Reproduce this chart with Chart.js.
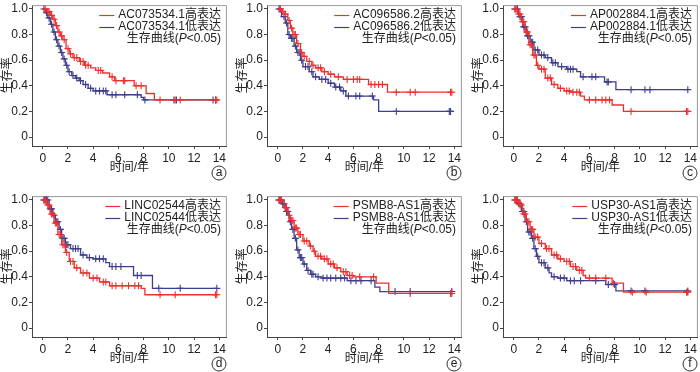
<!DOCTYPE html>
<html>
<head>
<meta charset="utf-8">
<script src="https://cdn.jsdelivr.net/npm/chart.js@4.4.1/dist/chart.umd.min.js"></script>
<style>
  body { margin: 0; width: 700px; height: 372px; overflow: hidden; background: #fff; position: relative; }
  canvas { position: absolute; }
</style>
</head>
<body>
<canvas id="pa" width="232" height="186" style="left:0px;top:0px"></canvas>
<canvas id="pb" width="232" height="186" style="left:235px;top:0px"></canvas>
<canvas id="pc" width="232" height="186" style="left:471px;top:0px"></canvas>
<canvas id="pd" width="232" height="186" style="left:0px;top:191px"></canvas>
<canvas id="pe" width="232" height="186" style="left:235px;top:191px"></canvas>
<canvas id="pf" width="232" height="186" style="left:471px;top:191px"></canvas>
<script>
// Axis ticks
const timeTicks = [0, 2, 4, 6, 8, 10, 12, 14];
const survTicks = [0, 0.2, 0.4, 0.6, 0.8, 1.0];

const panelIds = ['pa', 'pb', 'pc', 'pd', 'pe', 'pf'];
const panelLetters = ['a', 'b', 'c', 'd', 'e', 'f'];
const geneNames = ['AC073534.1', 'AC096586.2', 'AP002884.1', 'LINC02544', 'PSMB8-AS1', 'USP30-AS1'];

// Panel a
const aHighT = [0, 0.3, 0.6, 0.8, 1.0, 1.2, 1.4, 1.6, 1.85, 2.1, 2.4, 2.9, 3.3, 3.8, 4.2, 4.75, 5.3, 5.7, 7.25, 8.2, 8.85, 13.8];
const aHighS = [1, 0.98, 0.95, 0.92, 0.87, 0.82, 0.79, 0.76, 0.69, 0.65, 0.62, 0.59, 0.56, 0.54, 0.52, 0.50, 0.47, 0.44, 0.40, 0.34, 0.29, 0.29];
const aHighC = [0.2, 0.4, 0.5, 0.7, 0.9, 1.1, 1.3, 1.5, 1.7, 2.0, 2.2, 2.5, 2.7, 3.0, 3.2, 3.4, 3.6, 4.4, 4.6, 5.5, 5.8, 6.4, 6.5, 7.4, 7.8, 9.3, 10.5, 10.9, 13.7, 13.8];
const aLowT = [0, 0.2, 0.4, 0.6, 0.8, 1.0, 1.2, 1.4, 1.6, 1.8, 2.0, 2.3, 2.6, 2.9, 3.2, 3.6, 4.0, 5.1, 7.8, 8.0, 13.7];
const aLowS = [1, 0.97, 0.93, 0.88, 0.82, 0.76, 0.71, 0.66, 0.61, 0.56, 0.51, 0.48, 0.46, 0.44, 0.41, 0.38, 0.36, 0.33, 0.31, 0.29, 0.29];
const aLowC = [0.1, 0.3, 0.5, 0.7, 0.9, 1.1, 1.3, 1.5, 1.7, 1.9, 2.1, 2.4, 2.7, 3.0, 3.4, 3.8, 4.2, 4.5, 4.8, 5.0, 5.5, 5.8, 6.5, 7.5, 8.1, 10.4, 10.6, 13.5, 13.7];

// Panel b
const bHighT = [0, 0.3, 0.5, 0.8, 1.0, 1.2, 1.5, 1.8, 2.0, 2.3, 2.7, 3.0, 3.5, 4.0, 4.5, 5.2, 7.2, 8.7, 13.8];
const bHighS = [1, 0.98, 0.96, 0.91, 0.85, 0.80, 0.73, 0.66, 0.63, 0.59, 0.56, 0.54, 0.51, 0.49, 0.47, 0.45, 0.41, 0.35, 0.35];
const bHighC = [0.2, 0.4, 0.6, 0.9, 1.1, 1.3, 1.4, 1.6, 1.9, 2.1, 2.5, 2.8, 3.2, 3.4, 3.7, 4.2, 4.8, 5.5, 6.0, 6.3, 6.5, 7.4, 7.7, 8.0, 8.3, 9.4, 10.5, 10.9, 13.7, 13.8];
const bLowT = [0, 0.3, 0.6, 0.8, 1.0, 1.3, 1.5, 1.8, 2.0, 2.5, 2.8, 3.3, 4.0, 4.5, 5.0, 5.4, 7.6, 8.0, 13.7];
const bLowS = [1, 0.94, 0.89, 0.80, 0.77, 0.71, 0.66, 0.60, 0.55, 0.51, 0.47, 0.45, 0.42, 0.39, 0.36, 0.32, 0.29, 0.20, 0.20];
const bLowC = [0.1, 0.2, 0.5, 0.7, 0.9, 1.1, 1.2, 1.4, 1.6, 1.7, 1.9, 2.2, 2.4, 2.7, 3.0, 3.5, 3.8, 4.2, 4.6, 4.9, 5.2, 5.6, 6.2, 6.5, 7.5, 9.4, 13.6, 13.7];

// Panel c
const cHighT = [0, 0.3, 0.6, 0.9, 1.2, 1.5, 1.8, 2.0, 2.5, 3.0, 3.5, 4.0, 4.5, 5.3, 5.6, 7.8, 8.7, 13.8];
const cHighS = [1, 0.96, 0.90, 0.82, 0.72, 0.64, 0.56, 0.53, 0.46, 0.41, 0.38, 0.36, 0.35, 0.32, 0.29, 0.25, 0.20, 0.20];
const cHighC = [0.1, 0.2, 0.4, 0.5, 0.7, 0.8, 1.0, 1.1, 1.3, 1.4, 1.6, 1.7, 1.9, 2.2, 2.4, 2.7, 2.9, 3.2, 3.7, 4.2, 4.4, 4.7, 5.0, 5.2, 6.0, 6.5, 7.0, 7.3, 7.6, 9.3, 13.7, 13.8];
const cLowT = [0, 0.4, 0.7, 1.0, 1.3, 1.6, 2.0, 2.5, 3.0, 3.5, 4.2, 5.0, 5.3, 7.2, 8.1, 13.8];
const cLowS = [1, 0.94, 0.86, 0.79, 0.74, 0.68, 0.64, 0.62, 0.58, 0.55, 0.53, 0.51, 0.47, 0.43, 0.37, 0.37];
const cLowC = [0.1, 0.3, 0.5, 0.6, 0.8, 0.9, 1.1, 1.2, 1.4, 1.5, 1.7, 1.9, 2.2, 2.4, 2.7, 3.1, 3.3, 3.8, 4.3, 4.5, 4.7, 5.5, 6.2, 6.5, 7.4, 7.5, 9.3, 10.4, 10.8, 13.8];

// Panel d
const dHighT = [0, 0.3, 0.6, 0.9, 1.2, 1.5, 1.8, 2.1, 2.5, 3.0, 3.7, 4.5, 5.3, 7.8, 8.1, 13.8];
const dHighS = [1, 0.96, 0.89, 0.82, 0.73, 0.65, 0.59, 0.52, 0.47, 0.43, 0.39, 0.36, 0.33, 0.31, 0.26, 0.26];
const dHighC = [0.1, 0.2, 0.4, 0.5, 0.7, 0.8, 1.0, 1.1, 1.3, 1.4, 1.6, 1.7, 1.9, 2.2, 2.4, 2.7, 3.2, 3.5, 4.0, 4.3, 4.8, 5.0, 5.5, 5.8, 6.3, 6.8, 7.3, 7.6, 9.3, 10.5, 13.7, 13.8];
const dLowT = [0, 0.5, 0.8, 1.0, 1.3, 1.5, 1.8, 2.2, 3.0, 3.5, 4.0, 5.0, 5.3, 7.2, 8.7, 13.8];
const dLowS = [1, 0.93, 0.88, 0.83, 0.77, 0.70, 0.65, 0.62, 0.57, 0.55, 0.54, 0.51, 0.48, 0.41, 0.31, 0.31];
const dLowC = [0.1, 0.2, 0.3, 0.4, 0.6, 0.7, 0.9, 1.1, 1.2, 1.4, 1.6, 1.7, 1.9, 2.0, 2.4, 2.6, 2.8, 3.2, 3.7, 4.2, 4.5, 4.8, 5.5, 5.8, 6.2, 7.5, 7.8, 9.2, 10.9, 13.8];

// Panel e
const eHighT = [0, 0.5, 0.8, 1.0, 1.3, 1.6, 2.0, 2.5, 2.8, 3.0, 3.5, 4.0, 4.5, 5.0, 5.5, 6.0, 7.8, 8.8, 13.8];
const eHighS = [1, 0.94, 0.88, 0.84, 0.78, 0.73, 0.68, 0.64, 0.60, 0.56, 0.54, 0.50, 0.47, 0.44, 0.41, 0.40, 0.35, 0.27, 0.27];
const eHighC = [0.1, 0.2, 0.3, 0.6, 0.7, 0.9, 1.1, 1.2, 1.4, 1.5, 1.7, 1.8, 2.1, 2.3, 2.6, 2.9, 3.2, 3.4, 3.7, 3.9, 4.2, 4.4, 4.7, 5.2, 5.4, 5.7, 5.9, 6.5, 7.6, 10.5, 13.7, 13.8];
const eLowT = [0, 0.3, 0.6, 0.9, 1.1, 1.3, 1.5, 1.7, 2.0, 2.3, 2.6, 3.0, 3.5, 5.5, 7.7, 8.1, 13.8];
const eLowS = [1, 0.97, 0.91, 0.83, 0.77, 0.70, 0.61, 0.55, 0.50, 0.45, 0.42, 0.40, 0.39, 0.37, 0.32, 0.285, 0.285];
const eLowC = [0.1, 0.2, 0.4, 0.5, 0.7, 0.8, 1.0, 1.2, 1.4, 1.6, 1.8, 1.9, 2.1, 2.4, 2.7, 2.8, 3.2, 3.6, 3.9, 4.2, 4.6, 5.0, 5.3, 5.8, 6.2, 6.6, 7.4, 9.3, 10.5, 13.8];

// Panel f
const fHighT = [0, 0.4, 0.7, 1.0, 1.3, 1.6, 2.0, 2.5, 3.0, 3.5, 4.0, 4.5, 5.0, 5.5, 5.7, 7.8, 8.7, 13.8];
const fHighS = [1, 0.96, 0.89, 0.83, 0.77, 0.71, 0.66, 0.62, 0.57, 0.54, 0.52, 0.48, 0.45, 0.41, 0.39, 0.35, 0.28, 0.28];
const fHighC = [0.1, 0.2, 0.3, 0.5, 0.6, 0.8, 0.9, 1.1, 1.2, 1.4, 1.5, 1.7, 1.9, 2.2, 2.6, 2.8, 3.2, 3.4, 3.7, 4.2, 4.4, 4.7, 4.9, 5.2, 5.4, 6.0, 6.5, 7.3, 7.9, 9.4, 10.5, 13.7, 13.8];
const fLowT = [0, 0.3, 0.6, 0.9, 1.1, 1.4, 1.6, 1.8, 2.0, 2.5, 2.8, 3.0, 3.5, 4.2, 7.3, 8.1, 13.8];
const fLowS = [1, 0.97, 0.91, 0.83, 0.75, 0.70, 0.62, 0.56, 0.51, 0.47, 0.43, 0.40, 0.39, 0.37, 0.34, 0.29, 0.29];
const fLowC = [0.1, 0.2, 0.4, 0.5, 0.7, 0.8, 1.0, 1.2, 1.3, 1.5, 1.7, 1.9, 2.2, 2.4, 2.7, 3.2, 3.7, 4.0, 4.5, 4.8, 5.3, 6.5, 7.5, 8.0, 9.3, 10.4, 13.8];

const panels = [
    [aHighT, aHighS, aHighC, aLowT, aLowS, aLowC],
    [bHighT, bHighS, bHighC, bLowT, bLowS, bLowC],
    [cHighT, cHighS, cHighC, cLowT, cLowS, cLowC],
    [dHighT, dHighS, dHighC, dLowT, dLowS, dLowC],
    [eHighT, eHighS, eHighC, eLowT, eLowS, eLowC],
    [fHighT, fHighS, fHighC, fLowT, fLowS, fLowC]
];

const red = 'rgb(236, 48, 46)';
const blue = 'rgb(62, 62, 140)';
const fontFamily = "'Liberation Sans', Arial, 'Noto Sans CJK SC', sans-serif";

Chart.defaults.font.family = fontFamily;
Chart.defaults.color = '#222';

// KM survival value in effect at time t
function survAt(times, surv, t) {
    let s = surv[0];
    for (let i = 0; i < times.length; i++) {
        if (times[i] <= t) s = surv[i];
    }
    return s;
}

function stepPoints(times, surv) {
    return times.map((t, i) => ({ x: t, y: surv[i] }));
}

function censorPoints(times, surv, cens) {
    return cens.map(t => ({ x: t, y: survAt(times, surv, t) }));
}

// Frame, legend text and panel letter
const decorPlugin = {
    id: 'decor',
    beforeDatasetsDraw(chart) {
        const { ctx, chartArea: a } = chart;
        ctx.save();
        ctx.strokeStyle = '#9a9a9a';
        ctx.lineWidth = 1;
        ctx.beginPath();
        ctx.moveTo(a.left, a.top + 0.5);
        ctx.lineTo(a.right - 0.5, a.top + 0.5);
        ctx.lineTo(a.right - 0.5, a.bottom);
        ctx.stroke();
        ctx.restore();
    },
    afterDraw(chart) {
        const ctx = chart.ctx;
        const o = chart.options.plugins.decor;
        const right = 221;
        ctx.save();
        ctx.font = '12px ' + fontFamily;
        ctx.textBaseline = 'middle';
        ctx.fillStyle = '#222';
        const labels = [o.gene + '高表达', o.gene + '低表达'];
        const colors = [red, blue];
        labels.forEach((txt, i) => {
            const y = 15 + i * 12;
            const w = ctx.measureText(txt).width;
            const x0 = right - w;
            ctx.fillText(txt, x0, y);
            ctx.strokeStyle = colors[i];
            ctx.lineWidth = 1.2;
            ctx.beginPath();
            ctx.moveTo(x0 - 19, y + 0.5);
            ctx.lineTo(x0 - 4, y + 0.5);
            ctx.stroke();
        });
        // third line with italic P
        const p1 = '生存曲线(', p2 = 'P', p3 = '<0.05)';
        const w1 = ctx.measureText(p1).width;
        const w3 = ctx.measureText(p3).width;
        ctx.font = 'italic 12px ' + fontFamily;
        const w2 = ctx.measureText(p2).width;
        let x = right - w1 - w2 - w3;
        const y3 = 39;
        ctx.font = '12px ' + fontFamily;
        ctx.fillText(p1, x, y3);
        x += w1;
        ctx.font = 'italic 12px ' + fontFamily;
        ctx.fillText(p2, x, y3);
        x += w2;
        ctx.font = '12px ' + fontFamily;
        ctx.fillText(p3, x, y3);
        // circled letter
        ctx.strokeStyle = '#333';
        ctx.lineWidth = 1;
        ctx.beginPath();
        ctx.arc(219, 173, 7, 0, Math.PI * 2);
        ctx.stroke();
        ctx.textAlign = 'center';
        ctx.fillText(o.letter, 219, 173);
        ctx.restore();
    }
};

function makePanel(idx) {
    const [hT, hS, hC, lT, lS, lC] = panels[idx];
    const lineStyle = { stepped: true, borderWidth: 1.3, pointRadius: 0, fill: false };
    const crossStyle = { showLine: false, pointStyle: 'cross', pointRadius: 3.5, pointBorderWidth: 1.1 };
    new Chart(document.getElementById(panelIds[idx]), {
        type: 'line',
        data: {
            datasets: [
                { ...lineStyle, data: stepPoints(hT, hS), borderColor: red },
                { ...crossStyle, data: censorPoints(hT, hS, hC), borderColor: red, pointBorderColor: red },
                { ...lineStyle, data: stepPoints(lT, lS), borderColor: blue },
                { ...crossStyle, data: censorPoints(lT, lS, lC), borderColor: blue, pointBorderColor: blue }
            ]
        },
        options: {
            responsive: false,
            animation: false,
            layout: { padding: { top: 1, right: 4, bottom: 11, left: 0 } },
            plugins: {
                legend: { display: false },
                tooltip: { enabled: false },
                decor: { gene: geneNames[idx], letter: panelLetters[idx] }
            },
            scales: {
                x: {
                    type: 'linear',
                    min: -0.85,
                    max: 14.6,
                    afterBuildTicks: s => { s.ticks = timeTicks.map(v => ({ value: v })); },
                    afterFit: s => { s.height = 29; s.paddingLeft = 0; s.paddingRight = 0; },
                    grid: { drawOnChartArea: false, drawTicks: true, tickLength: 3, color: '#444' },
                    border: { color: '#444' },
                    ticks: { padding: 2, font: { size: 12 }, maxRotation: 0, autoSkip: false },
                    title: { display: true, text: '时间/年', font: { size: 12 }, padding: 0 }
                },
                y: {
                    min: -0.07,
                    max: 1.03,
                    afterBuildTicks: s => { s.ticks = survTicks.map(v => ({ value: v })); },
                    afterFit: s => { s.width = 32; s.paddingTop = 0; s.paddingBottom = 0; },
                    grid: { drawOnChartArea: false, drawTicks: true, tickLength: 3, color: '#444' },
                    border: { color: '#444' },
                    ticks: { padding: 1, font: { size: 12 }, callback: v => v === 0 ? '0' : v.toFixed(1) },
                    title: { display: true, text: '生存率', font: { size: 12 }, padding: 0 }
                }
            }
        },
        plugins: [decorPlugin]
    });
}

panelIds.forEach((id, i) => makePanel(i));
</script>
</body>
</html>
